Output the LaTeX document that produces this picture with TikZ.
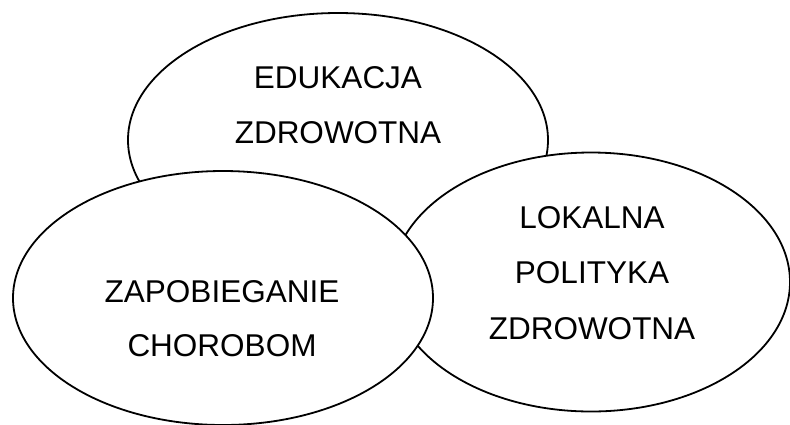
\documentclass[tikz,border=0pt]{standalone}
\usepackage{fontspec}
\setmainfont{Liberation Sans}
\usetikzlibrary{shapes.geometric}
\begin{document}
\begin{tikzpicture}[x=1pt,y=-1pt,
  blob/.style={draw=black,fill=white,line width=1.8pt,ellipse,inner sep=0pt},
  lbl/.style={anchor=base,inner sep=0pt,font=\fontsize{31.5}{36}\selectfont}]
\useasboundingbox (0,0) rectangle (790,424);
\node[blob,minimum width=420pt,minimum height=254pt] (top) at (338,140) {};
\node[blob,minimum width=398pt,minimum height=259pt] (right) at (591,282) {};
\node[blob,minimum width=420pt,minimum height=254pt] (left) at (223,298) {};
\node[lbl] (t1) at (338,88) {EDUKACJA};
\node[lbl] (t2) at (338,143) {ZDROWOTNA};
\node[lbl] (l1) at (222,302) {ZAPOBIEGANIE};
\node[lbl] (l2) at (222,356) {CHOROBOM};
\node[lbl] (r1) at (592,228) {LOKALNA};
\node[lbl] (r2) at (592,283) {POLITYKA};
\node[lbl] (r3) at (592,339) {ZDROWOTNA};
\end{tikzpicture}
\end{document}
